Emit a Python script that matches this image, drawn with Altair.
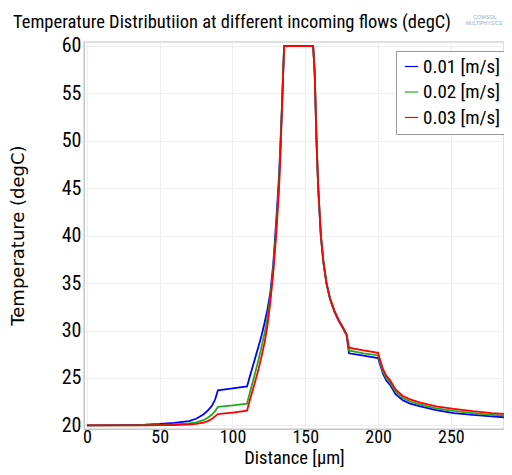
import altair as alt
import pandas as pd

# Shared x positions (µm)
distance = [0, 20, 40, 50, 60, 70, 75, 80, 83, 86, 88, 90, 100, 110,
            112, 115, 118, 120, 122, 124, 126, 128, 130, 131, 132, 133, 134, 135, 135.5,
            155.4, 156.5, 157.7, 158.9, 160.7, 162.5, 164.6, 167, 170, 173, 176, 178.4,
            180, 190, 200, 201, 202, 203.5, 205.8, 208.1, 212, 217, 222, 229, 240, 252,
            265, 278, 292]

t_001 = [20.0, 20.02, 20.07, 20.15, 20.27, 20.45, 20.7, 21.15, 21.55, 22.1, 22.7, 23.7, 23.9, 24.1,
         25.2, 26.8, 28.4, 29.5, 30.8, 32.2, 34.0, 37.0, 41.5, 43.9, 46.4, 50.0, 53.7, 58.0, 60.0,
         60.0, 57.0, 50.0, 44.9, 39.9, 37.1, 34.9, 33.3, 32.0, 31.0, 30.2, 29.5,
         27.6, 27.35, 27.1, 26.6, 26.1, 25.4, 24.7, 24.3, 23.3, 22.65, 22.3, 22.0, 21.6, 21.3,
         21.1, 20.95, 20.8]

t_002 = [20.0, 20.01, 20.03, 20.05, 20.1, 20.2, 20.33, 20.55, 20.8, 21.15, 21.5, 21.95, 22.1, 22.3,
         23.5, 25.2, 27.0, 28.3, 29.7, 31.3, 33.5, 36.5, 40.7, 43.2, 45.7, 49.4, 53.6, 58.1, 60.0,
         60.0, 57.0, 50.05, 45.0, 40.0, 37.15, 34.95, 33.35, 32.05, 31.05, 30.25, 29.55,
         27.9, 27.6, 27.4, 26.85, 26.35, 25.65, 24.95, 24.55, 23.55, 22.88, 22.52, 22.2, 21.8, 21.52,
         21.3, 21.12, 20.97]

t_003 = [20.0, 20.0, 20.01, 20.02, 20.04, 20.1, 20.17, 20.3, 20.45, 20.7, 20.95, 21.2, 21.35, 21.55,
         22.7, 24.3, 26.0, 27.3, 28.7, 30.5, 33.0, 36.1, 40.0, 42.5, 45.0, 48.8, 53.5, 58.0, 60.0,
         60.0, 57.0, 50.1, 45.1, 40.1, 37.2, 35.0, 33.4, 32.1, 31.1, 30.3, 29.6,
         28.2, 27.9, 27.65, 27.1, 26.6, 25.9, 25.2, 24.8, 23.8, 23.1, 22.75, 22.4, 22.0, 21.75,
         21.5, 21.3, 21.15]

series_labels = ["0.01 [m/s]", "0.02 [m/s]", "0.03 [m/s]"]
series_colors = ["#0000ff", "#1faa1f", "#ff0000"]
x_ticks = [0, 50, 100, 150, 200, 250]
y_ticks = [20, 25, 30, 35, 40, 45, 50, 55, 60]
title_text = "Temperature Distributiion at different incoming flows (degC)"

rows = []
for order, (lab, vals) in enumerate(zip(series_labels, [t_001, t_002, t_003])):
    for d, t in zip(distance, vals):
        rows.append({"Distance": d, "Temperature": t, "Flow": lab, "order": order})
df = pd.DataFrame(rows)

COND = "Liberation Sans Narrow, Roboto Condensed, Liberation Sans, sans-serif"
WIDE = "DejaVu Sans, Verdana, sans-serif"

lines = alt.Chart(df).mark_line(strokeWidth=1.8, clip=True).encode(
    x=alt.X("Distance:Q",
            scale=alt.Scale(domain=[-2, 286.5], nice=False, zero=False),
            axis=alt.Axis(values=x_ticks, title="Distance [µm]", titleFont=COND,
                          titleFontSize=18.5, titleFontWeight="normal", titleColor="#000",
                          titleY=34, titleBaseline="alphabetic",
                          labelFont=COND, labelFontSize=18, labelColor="#000",
                          labelPadding=-1, ticks=False, grid=True, gridColor="#efefef",
                          domainColor="#c8c8c8", labelFlush=False)),
    y=alt.Y("Temperature:Q",
            scale=alt.Scale(domain=[19.62, 60.42], nice=False, zero=False),
            axis=alt.Axis(values=y_ticks, title="Temperature (degC)", titleFont=WIDE,
                          titleFontSize=18, titleFontWeight="normal", titleColor="#000",
                          titleX=-61, titleY=193, titleAlign="center", titleBaseline="alphabetic",
                          labelFont=COND, labelFontSize=20, labelColor="#000", labelPadding=3,
                          ticks=False, grid=True, gridColor="#efefef", domainColor="#c8c8c8")),
    color=alt.Color("Flow:N",
                    scale=alt.Scale(domain=series_labels, range=series_colors),
                    legend=alt.Legend(title=None, orient="none", legendX=312, legendY=9,
                                      labelFont=COND, labelFontSize=19, labelColor="#000",
                                      symbolType="stroke", symbolSize=180, symbolStrokeWidth=1.2,
                                      fillColor="white", strokeColor="#999999", padding=6,
                                      rowPadding=5.5, labelOffset=2, cornerRadius=0,
                                      labelLimit=200)),
    order="order:Q",
)

title_mark = alt.Chart(pd.DataFrame({"t": [title_text]})).mark_text(
    font=COND, fontSize=18.5, color="#000", align="left", baseline="alphabetic").encode(
    text="t:N", x=alt.value(-71), y=alt.value(-14))

logo_top = alt.Chart(pd.DataFrame({"t": ["COMSOL"]})).mark_text(
    fontSize=5.5, color="#8fb0d0", align="center", baseline="middle").encode(
    text="t:N", x=alt.value(401), y=alt.value(-25))
logo_bot = alt.Chart(pd.DataFrame({"t": ["MULTIPHYSICS"]})).mark_text(
    fontSize=5, color="#8fb0d0", align="center", baseline="middle").encode(
    text="t:N", x=alt.value(400), y=alt.value(-19))

chart = alt.layer(lines, title_mark, logo_top, logo_bot).properties(
    width=420, height=387,
    autosize=alt.AutoSizeParams(type="none"),
    padding={"left": 76, "top": 34, "right": 0, "bottom": 38},
).configure_view(stroke="#d6d6d6", strokeWidth=1.5)

chart.save("out.html", embed_options={"renderer": "svg", "actions": False})
